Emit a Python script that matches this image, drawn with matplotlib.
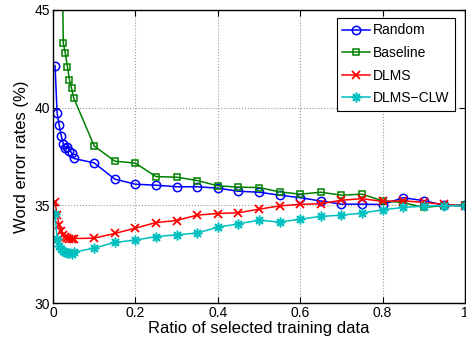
import numpy as np
import matplotlib
matplotlib.use('Agg')
import matplotlib.pyplot as plt

plt.rcParams['font.family'] = ['Liberation Sans', 'DejaVu Sans']

# x 軸：選取訓練資料比例
ratio = [0.005, 0.01, 0.015, 0.02, 0.025, 0.03, 0.035, 0.04, 0.045, 0.05,
         0.1, 0.15, 0.2, 0.25, 0.3, 0.35, 0.4, 0.45, 0.5, 0.55, 0.6,
         0.65, 0.7, 0.75, 0.8, 0.85, 0.9, 0.95, 1.0]

wer_random = [42.15, 39.72, 39.12, 38.57, 38.15, 37.95, 38.0, 37.8, 37.7, 37.4,
              37.17, 36.34, 36.08, 36.03, 35.95, 35.95, 35.88, 35.72, 35.67, 35.52, 35.39,
              35.22, 35.06, 35.06, 35.04, 35.39, 35.24, 35.0, 35.0]

wer_baseline = [70.0, 63.0, 58.0, 52.0, 43.3, 42.78, 42.1, 41.42, 41.0, 40.51,
                38.04, 37.26, 37.16, 36.47, 36.44, 36.27, 36.0, 35.93, 35.91, 35.69, 35.57,
                35.67, 35.52, 35.57, 35.23, 35.14, 34.89, 34.99, 35.0]

wer_dlms = [35.17, 34.5, 34.0, 33.7, 33.5, 33.4, 33.35, 33.3, 33.3, 33.3,
            33.32, 33.56, 33.83, 34.12, 34.22, 34.5, 34.58, 34.62, 34.8, 34.97, 35.05,
            35.08, 35.26, 35.34, 35.2, 35.23, 35.15, 35.05, 34.95]

wer_dlms_clw = [34.55, 33.3, 32.9, 32.75, 32.65, 32.6, 32.55, 32.55, 32.5, 32.6,
                32.81, 33.1, 33.22, 33.4, 33.49, 33.58, 33.88, 34.05, 34.24, 34.14, 34.29,
                34.43, 34.5, 34.6, 34.77, 34.89, 34.96, 34.99, 34.95]

fig = plt.figure(figsize=(4.66, 3.40), dpi=100)
ax = fig.add_axes([0.1137, 0.1088, 0.884, 0.862])

lw = 1.1
ax.plot(ratio, wer_random, '-o', color=(0, 0, 1), mfc='none', ms=6, lw=lw, mew=1.1, label='Random')
ax.plot(ratio, wer_baseline, '-s', color=(0, 0.5, 0), mfc='none', ms=5, lw=lw, mew=1.1, label='Baseline')
ax.plot(ratio, wer_dlms, '-x', color=(1, 0, 0), ms=6, lw=lw, mew=1.3, label='DLMS')
# MATLAB 風格的星號標記 (8 臂)
ax.plot(ratio, wer_dlms_clw, '-', marker=(8, 2, 0), color=(0, 0.75, 0.75), ms=7, lw=lw, mew=1.1,
        label='DLMS\u2212CLW')

ax.set_xlim(0, 1)
ax.set_ylim(30, 45)
ax.set_xticks([0, 0.2, 0.4, 0.6, 0.8, 1])
ax.set_xticklabels(['0', '0.2', '0.4', '0.6', '0.8', '1'])
ax.set_yticks([30, 35, 40, 45])
ax.tick_params(direction='in', length=4, labelsize=10, top=True, right=True, pad=2)
ax.grid(True, linestyle=':', color='0.6', lw=0.8)
for s in ax.spines.values():
    s.set_linewidth(1.0)

ax.set_xlabel('Ratio of selected training data', fontsize=12, labelpad=1)
ax.set_ylabel('Word error rates (%)', fontsize=12, labelpad=4)

leg = ax.legend(loc='upper right', fontsize=10, fancybox=False, framealpha=1,
                edgecolor='black', handlelength=1.95, borderpad=0.4,
                labelspacing=0.62, handletextpad=0.25, borderaxespad=0,
                bbox_to_anchor=(0.976, 0.973))
leg.get_frame().set_linewidth(0.8)

fig.savefig('out.png', dpi=100)
